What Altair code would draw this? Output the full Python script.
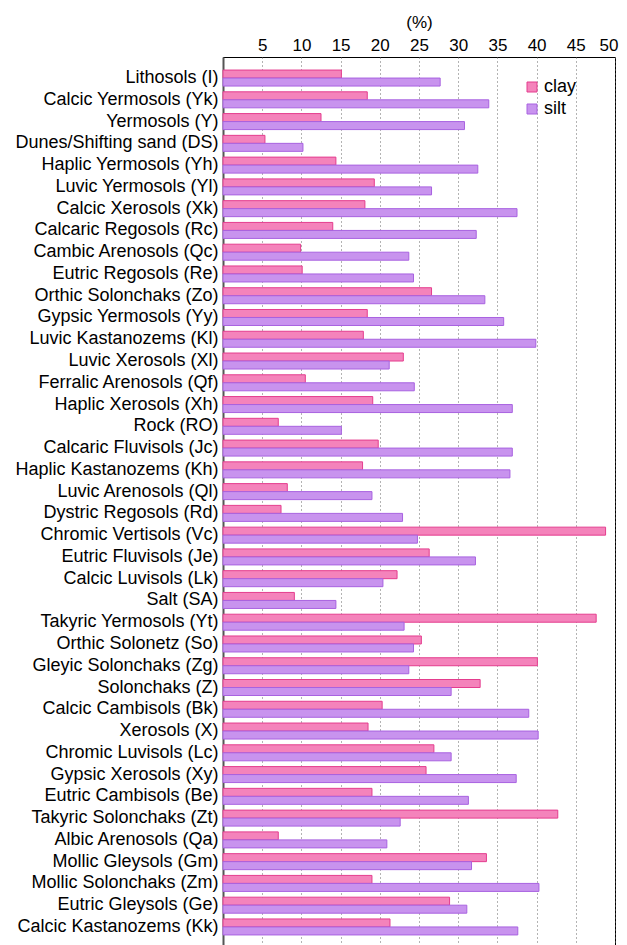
import altair as alt
import pandas as pd

categories = [
    "Lithosols (I)", "Calcic Yermosols (Yk)", "Yermosols (Y)", "Dunes/Shifting sand (DS)",
    "Haplic Yermosols (Yh)", "Luvic Yermosols (Yl)", "Calcic Xerosols (Xk)", "Calcaric Regosols (Rc)",
    "Cambic Arenosols (Qc)", "Eutric Regosols (Re)", "Orthic Solonchaks (Zo)", "Gypsic Yermosols (Yy)",
    "Luvic Kastanozems (Kl)", "Luvic Xerosols (Xl)", "Ferralic Arenosols (Qf)", "Haplic Xerosols (Xh)",
    "Rock (RO)", "Calcaric Fluvisols (Jc)", "Haplic Kastanozems (Kh)", "Luvic Arenosols (Ql)",
    "Dystric Regosols (Rd)", "Chromic Vertisols (Vc)", "Eutric Fluvisols (Je)", "Calcic Luvisols (Lk)",
    "Salt (SA)", "Takyric Yermosols (Yt)", "Orthic Solonetz (So)", "Gleyic Solonchaks (Zg)",
    "Solonchaks (Z)", "Calcic Cambisols (Bk)", "Xerosols (X)", "Chromic Luvisols (Lc)",
    "Gypsic Xerosols (Xy)", "Eutric Cambisols (Be)", "Takyric Solonchaks (Zt)", "Albic Arenosols (Qa)",
    "Mollic Gleysols (Gm)", "Mollic Solonchaks (Zm)", "Eutric Gleysols (Ge)", "Calcic Kastanozems (Kk)",
]

clay = [
    15.1, 18.4, 12.5, 5.35, 14.4, 19.3, 18.1, 14.0, 9.9, 10.1, 26.6, 18.4,
    17.9, 23.0, 10.5, 19.1, 7.05, 19.8, 17.8, 8.2, 7.4, 48.8, 26.3, 22.2,
    9.1, 47.6, 25.3, 40.1, 32.8, 20.3, 18.5, 26.9, 25.9, 19.0, 42.7, 7.05,
    33.6, 19.0, 28.9, 21.3,
]

silt = [
    27.7, 33.9, 30.8, 10.2, 32.5, 26.6, 37.5, 32.3, 23.7, 24.3, 33.4, 35.8,
    39.9, 21.2, 24.4, 36.9, 15.1, 36.9, 36.6, 19.0, 22.9, 24.8, 32.2, 20.4,
    14.4, 23.1, 24.3, 23.7, 29.1, 39.0, 40.2, 29.1, 37.4, 31.3, 22.6, 20.9,
    31.7, 40.3, 31.1, 37.6,
]

series = ["clay", "silt"]
fills = ["#f483bb", "#c893ee"]
strokes = ["#e43d8e", "#a862e0"]
ticks = [5, 10, 15, 20, 25, 30, 35, 40, 45, 50]

rows = []
for i, c in enumerate(categories):
    rows.append({"soil": c, "series": "clay", "value": clay[i]})
    rows.append({"soil": c, "series": "silt", "value": silt[i]})
df = pd.DataFrame(rows)

FONT = "Liberation Sans"

chart = alt.Chart(df).mark_bar(strokeWidth=1, strokeOpacity=1, fillOpacity=1).encode(
    x=alt.X(
        "value:Q",
        scale=alt.Scale(domain=[0, 50], nice=False, zero=True),
        axis=alt.Axis(
            orient="top", values=ticks, title="(%)", ticks=False, domain=False,
            grid=True, gridDash=[1, 3], gridColor="#666666", gridWidth=1,
            labelFontSize=17, labelFont=FONT, labelColor="black", labelPadding=3,
            titleFontSize=17, titleFont=FONT, titleFontWeight="normal", titleColor="black",
            titlePadding=5, labelFlush=True, labelFlushOffset=3,
        ),
    ),
    y=alt.Y(
        "soil:N",
        sort=categories,
        scale=alt.Scale(paddingInner=0.265, paddingOuter=0.6),
        axis=alt.Axis(
            title=None, ticks=False, domain=True, domainColor="#555555", domainWidth=2,
            labelFontSize=18, labelFont=FONT, labelColor="black", labelPadding=5,
            labelLimit=400, grid=False,
        ),
    ),
    yOffset=alt.YOffset("series:N", sort=series, scale=alt.Scale(paddingInner=0, paddingOuter=0)),
    fill=alt.Fill(
        "series:N",
        scale=alt.Scale(domain=series, range=fills),
        legend=alt.Legend(
            title=None, orient="none", legendX=300, legendY=21, symbolType="square",
            symbolSize=100, symbolStrokeWidth=1, labelFontSize=18, labelFont=FONT,
            labelColor="black", rowPadding=4, labelOffset=3,
        ),
    ),
    stroke=alt.Stroke("series:N", scale=alt.Scale(domain=series, range=strokes), legend=None),
).properties(
    width=392,
    height=891,
    autosize=alt.AutoSizeParams(type="none"),
    padding={"left": 215, "top": 49, "right": 4, "bottom": 0},
).configure_view(stroke="black", strokeWidth=1)

chart.save("out.html", embed_options={"renderer": "svg", "actions": False})
